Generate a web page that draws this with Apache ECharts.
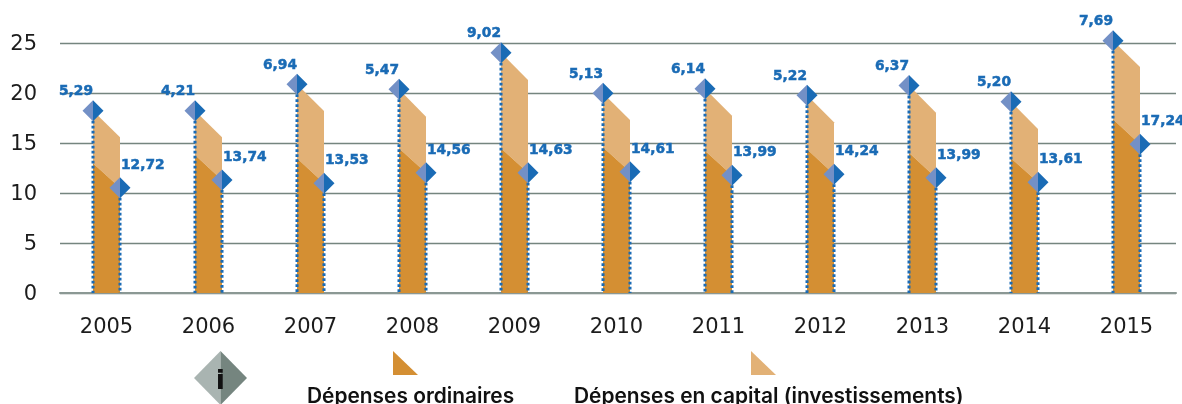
<!DOCTYPE html>
<html><head><meta charset="utf-8">
<style>html,body{margin:0;padding:0;background:#fff}#c{width:1182px;height:404px}</style>
<script src="https://cdn.jsdelivr.net/npm/echarts@6/dist/echarts.min.js"></script>
</head><body><div id="c"></div>
<script>
const years = ['2005','2006','2007','2008','2009','2010','2011','2012','2013','2014','2015'];
const capitalLabels = [5.29,4.21,6.94,5.47,9.02,5.13,6.14,5.22,6.37,5.20,7.69];
const ordinaryLabels = [12.72,13.74,13.53,14.56,14.63,14.61,13.99,14.24,13.99,13.61,17.24];
const leftTop = [18.23,18.23,20.87,20.37,24.03,19.97,20.43,19.77,20.74,19.13,25.23];
const rightTop = [15.57,15.57,18.2,17.63,21.3,17.3,17.73,17.07,18.03,16.4,22.6];
const leftSplit = [12.97,13.8,13.47,14.47,14.47,14.57,14.23,14.37,14.03,13.47,17.37];
const rightLow = [10.53,11.3,10.97,12.03,12.03,12.13,11.77,11.87,11.53,11.07,14.87];
const yTicks = [0,5,10,15,20,25];

const FONT = '"DejaVu Sans", sans-serif';
const FONT2 = 'Inter, sans-serif';
const ORD = '#d48f33', CAP = '#e2b176', BLUE = '#1a6bb5', BLUE_L = '#7390c6';
const fmt = v => v.toFixed(2).replace('.', ',');
const HALF = 13.5, D = 10.5;

function diamond(x, y) {
  return [
    {type:'polygon',shape:{points:[[x,y-D],[x,y+D],[x-D,y]]},style:{fill:BLUE_L}},
    {type:'polygon',shape:{points:[[x,y-D],[x+D,y],[x,y+D]]},style:{fill:BLUE}}
  ];
}
function dotted(x, y0, y1) {
  return {type:'line',shape:{x1:x,y1:y0,x2:x,y2:y1},
    style:{stroke:BLUE,lineWidth:3,lineDash:[2.8,2.2]}};
}
function label(x, y, text, align) {
  return {type:'text',x,y,style:{text,fill:BLUE,stroke:BLUE,lineWidth:0.5,
    font:'700 13.8px '+FONT,textAlign:align,textVerticalAlign:'middle'}};
}
function renderItem(params, api) {
  const i = api.value(0);
  const c = api.coord([i, 0]);
  const lx = c[0]-HALF, rx = c[0]+HALF, y0 = c[1];
  const ly = v => api.coord([i, v])[1];
  const a = ly(leftTop[i]), b = ly(rightTop[i]), s = ly(leftSplit[i]), r = ly(rightLow[i]);
  return {type:'group',children:[
    {type:'polygon',shape:{points:[[lx,a],[rx,b],[rx,r],[lx,s]]},style:{fill:CAP}},
    {type:'polygon',shape:{points:[[lx,s],[rx,r],[rx,y0],[lx,y0]]},style:{fill:ORD}},
    dotted(lx,a,y0), dotted(rx,r,y0),
    ...diamond(lx,a), ...diamond(rx,r),
    label(lx, a-19, fmt(capitalLabels[i]), 'right'),
    label(rx+1, r-22.5, fmt(ordinaryLabels[i]), 'left')
  ]};
}
const chart = echarts.init(document.getElementById('c'), null, {renderer:'canvas'});
chart.setOption({
  animation:false,
  backgroundColor:'#fff',
  grid:[
    {left:60,width:1116,top:43,height:250},
    {left:55.5,width:1122,top:43,height:250}
  ],
  xAxis:[
    {gridIndex:0,type:'category',data:years,show:true,axisLabel:{show:false},axisTick:{show:false},
     axisLine:{show:true,lineStyle:{color:'#8b9894',width:2}}},
    {gridIndex:1,type:'category',data:years,axisTick:{show:false},axisLine:{show:false},
     axisLabel:{color:'#1c1c1c',fontFamily:FONT,fontSize:21,margin:24}}
  ],
  yAxis:[
    {gridIndex:0,type:'value',min:0,max:25,interval:5,
     axisLine:{show:false},axisTick:{show:false},
     axisLabel:{color:'#1c1c1c',fontFamily:FONT,fontSize:21,margin:23,verticalAlign:'top',lineHeight:4,
       formatter:v=>yTicks.includes(v)?String(v):''},
     splitLine:{lineStyle:{color:'#75857f',width:1.4}}},
    {gridIndex:1,type:'value',min:0,max:25,interval:5,show:false,splitLine:{show:false}}
  ],
  series:[{
    type:'custom',xAxisIndex:1,yAxisIndex:1,clip:false,
    data:years.map((y,i)=>[i,leftTop[i]]),
    encode:{x:0,y:1},
    renderItem
  }],
  graphic:[
    {type:'polygon',shape:{points:[[194,378],[220.5,351],[220.5,405]]},style:{fill:'#a9b4b1'}},
    {type:'polygon',shape:{points:[[220.5,351],[247,378],[220.5,405]]},style:{fill:'#75857f'}},
    {type:'text',x:220.5,y:382,style:{text:'i',fill:'#111',font:'700 27px '+FONT,textAlign:'center',textVerticalAlign:'middle'}},
    {type:'polygon',shape:{points:[[393,351],[393,375],[418,375]]},style:{fill:ORD}},
    {type:'polygon',shape:{points:[[751,351],[751,375],[776,375]]},style:{fill:CAP}},
    {type:'text',x:307,y:397,style:{text:'Dépenses ordinaires',fill:'#111',font:'600 20.9px '+FONT2,textAlign:'left',textVerticalAlign:'middle'}},
    {type:'text',x:574,y:397,style:{text:'Dépenses en capital (investissements)',fill:'#111',font:'600 20.9px '+FONT2,textAlign:'left',textVerticalAlign:'middle'}}
  ]
});
</script></body></html>
